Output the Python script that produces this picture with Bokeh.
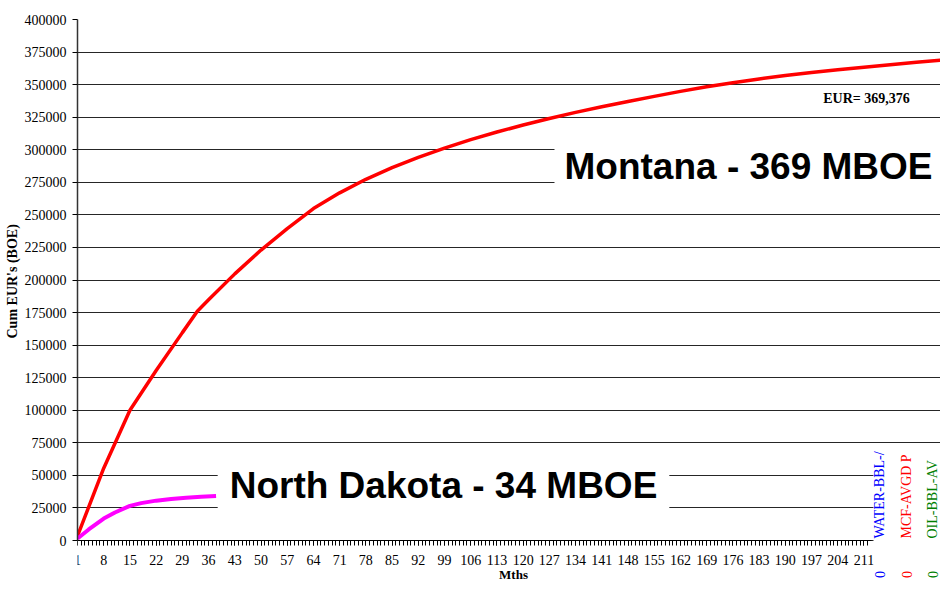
import math
from bokeh.plotting import figure
from bokeh.models import Range1d, FixedTicker, Label, BoxAnnotation, BasicTickFormatter, Title
from bokeh.embed import file_html
from bokeh.resources import INLINE

# ---- data ----
months_mt = [1, 8, 15, 22, 29, 33, 36, 43, 50, 57, 64, 71, 78, 85, 92, 99, 106, 113, 120,
             127, 134, 141, 148, 155, 162, 169, 176, 183, 190, 197, 204, 211, 218, 225, 234]
cum_mt = [3500, 55500, 100000, 130500, 159600, 176000, 184800, 204700, 223000, 239500,
          254800, 266900, 277300, 286300, 294200, 301300, 307800, 313600, 319000, 324000,
          328700, 333000, 337100, 341000, 344800, 348300, 351500, 354400, 357000, 359300,
          361400, 363400, 365300, 367100, 369376]

months_nd = [1, 4, 8, 11, 15, 18, 22, 26, 30, 34, 38]
cum_nd = [1500, 8500, 16800, 21500, 26600, 28700, 30600, 31900, 32800, 33500, 34100]

x_tick_labels = list(range(1, 212, 7))
x_minor = list(range(1, 213))
y_ticks = list(range(0, 400001, 25000))
legend_names = ["WATER-BBL-/", "MCF-AVGD P", "OIL-BBL-AV"]
legend_colors = ["#0000FF", "#FF0000", "#008000"]

W, H = 940, 581
FRAME_LEFT, FRAME_TOP = 77, 19
AXIS_Y = 540                     # pixel row of the value 0
PX_PER_MONTH = 3.745
PX_PER_UNIT = 521 / 400000.0
x_end = 1 + (W - FRAME_LEFT) / PX_PER_MONTH
y_start = -(H - AXIS_Y) / PX_PER_UNIT

p = figure(width=W, height=H, output_backend="svg", toolbar_location=None,
           x_range=Range1d(1, x_end), y_range=Range1d(y_start, 400000),
           min_border_left=FRAME_LEFT, min_border_right=0, min_border_top=FRAME_TOP,
           min_border_bottom=0)
p.outline_line_color = None
p.background_fill_color = "white"
p.border_fill_color = "white"

# grid
p.xgrid.grid_line_color = None
p.ygrid.ticker = FixedTicker(ticks=y_ticks)
p.ygrid.grid_line_color = "#000000"
p.ygrid.grid_line_alpha = 0.85
p.ygrid.grid_line_width = 1

# x axis, fixed at value 0 so the frame can reach the page bottom
xa = p.xaxis[0]
xa.fixed_location = 0
xa.ticker = FixedTicker(ticks=x_tick_labels, minor_ticks=x_minor)
xa.bounds = (1, 213)
xa.axis_line_color = "#000000"
xa.major_tick_out = 5
xa.major_tick_in = 0
xa.minor_tick_out = 5
xa.minor_tick_in = 0
xa.major_tick_line_color = "#000000"
xa.minor_tick_line_color = "#000000"
xa.major_label_text_font = "Liberation Serif"
xa.major_label_text_font_size = "14px"
xa.major_label_text_color = "#000000"
xa.major_label_standoff = 9

ya = p.yaxis[0]
ya.ticker = FixedTicker(ticks=y_ticks)
ya.bounds = (0, 400000)
ya.formatter = BasicTickFormatter(use_scientific=False)
ya.axis_line_color = "#333333"
ya.axis_line_width = 1.5
ya.major_tick_out = 5
ya.major_tick_in = 0
ya.minor_tick_line_color = None
ya.major_tick_line_color = "#000000"
ya.major_label_text_font = "Liberation Serif"
ya.major_label_text_font_size = "14px"
ya.major_label_text_color = "#000000"
ya.major_label_standoff = 6

# y axis title as a side title, starting at the reference's bottom position
ytitle = Title(text="Cum EUR's (BOE)", align="left", offset=H - 338, standoff=4,
               text_font="Liberation Serif", text_font_style="bold",
               text_font_size="14px", text_color="#000000")
p.add_layout(ytitle, "left")

# series
p.line(months_mt, cum_mt, line_color="#FF0000", line_width=3.5)
p.line(months_nd, cum_nd, line_color="#FF00FF", line_width=4)


def sx(px):
    return px - FRAME_LEFT


def sy(py):
    return H - py


# legend area (white box, right bottom)
p.add_layout(BoxAnnotation(left=sx(873), right=sx(960), bottom=sy(H + 20), top=sy(444),
                           left_units="screen", right_units="screen",
                           bottom_units="screen", top_units="screen",
                           fill_color="white", fill_alpha=1.0, line_color=None))

for name, col, xpos in zip(legend_names, legend_colors, [879, 906, 932]):
    p.add_layout(Label(x=sx(xpos), y=sy(538), x_units="screen", y_units="screen",
                       text=name, angle=math.pi / 2, text_align="left", text_baseline="middle",
                       text_font="Liberation Serif", text_font_size="14px", text_color=col))
    p.add_layout(Label(x=sx(xpos), y=sy(574), x_units="screen", y_units="screen",
                       text="0", angle=math.pi / 2, text_align="center", text_baseline="middle",
                       text_font="Liberation Serif", text_font_size="14px", text_color=col))

# big annotations
p.add_layout(Label(x=sx(443), y=sy(485), x_units="screen", y_units="screen",
                   text="North Dakota - 34 MBOE", text_align="center", text_baseline="middle",
                   text_font="Liberation Sans", text_font_style="bold", text_font_size="37px",
                   text_color="#000000", background_fill_color="white", padding=12))
p.add_layout(Label(x=sx(748), y=sy(166), x_units="screen", y_units="screen",
                   text="Montana - 369 MBOE", text_align="center", text_baseline="middle",
                   text_font="Liberation Sans", text_font_style="bold", text_font_size="37px",
                   text_color="#000000", background_fill_color="white", padding=10))
p.add_layout(Label(x=sx(866), y=sy(98), x_units="screen", y_units="screen",
                   text="EUR= 369,376", text_align="center", text_baseline="middle",
                   text_font="Liberation Serif", text_font_style="bold", text_font_size="14px",
                   text_color="#000000"))

# x axis title
p.add_layout(Label(x=sx(513), y=sy(574), x_units="screen", y_units="screen",
                   text="Mths", text_align="center", text_baseline="middle",
                   text_font="Liberation Serif", text_font_style="bold",
                   text_font_size="13px", text_color="#000000"))

open("out.html", "w").write(file_html(p, INLINE))
